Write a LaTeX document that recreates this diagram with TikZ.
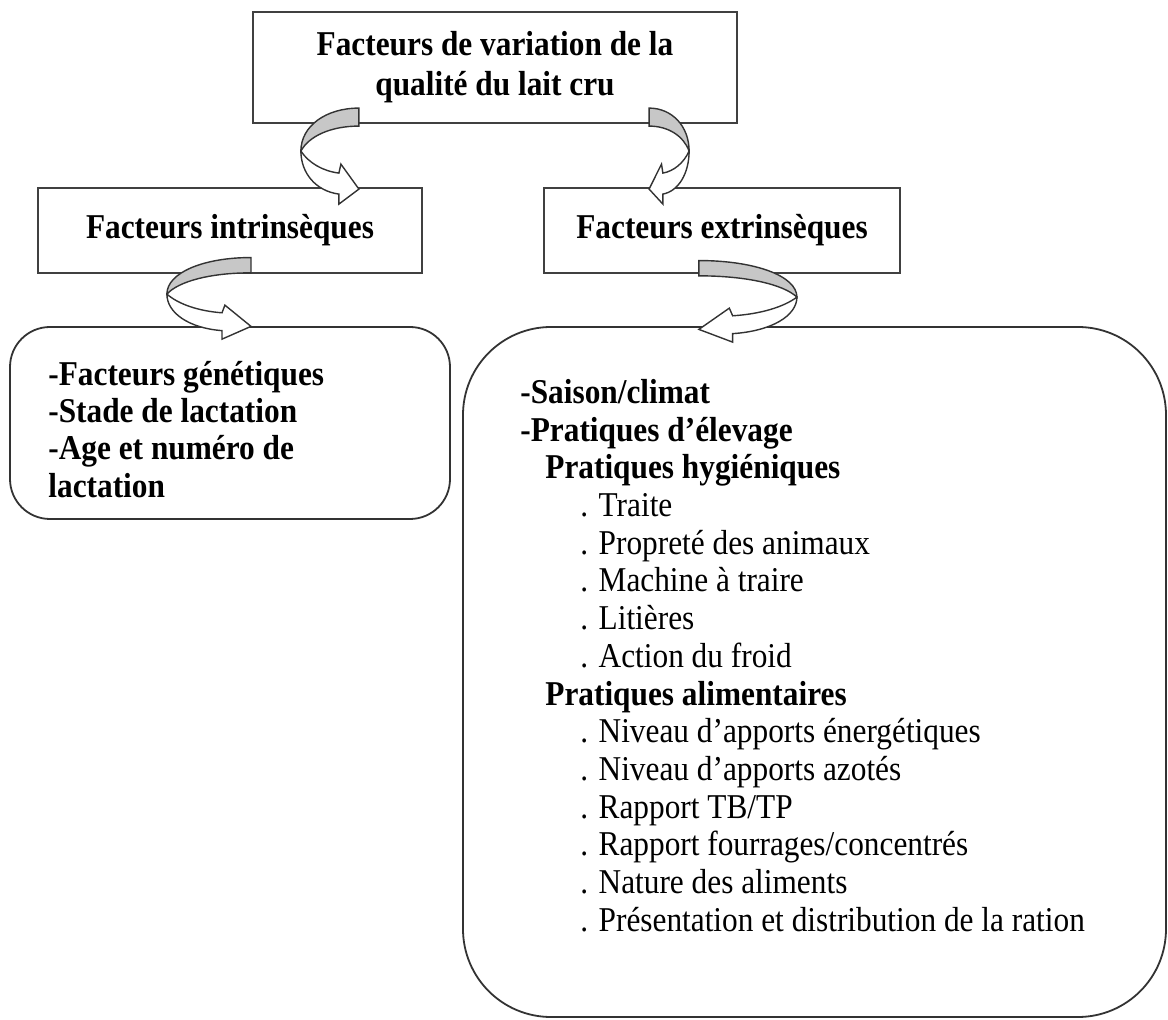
\documentclass[tikz,border=0pt]{standalone}
\usepackage{fontspec}
\setmainfont{Liberation Serif}[FakeStretch=0.9]
\usetikzlibrary{calc}

\tikzset{
  boite/.style={draw=black!75, line width=1.1pt, inner sep=0pt, align=center,
    font=\bfseries\fontsize{17.4}{20}\selectfont},
  cadre/.style={draw=black!80, line width=0.9pt, inner sep=0pt},
  titre/.style={anchor=base west, inner sep=0pt, font=\bfseries\fontsize{17.4}{20}\selectfont},
  item/.style={anchor=base west, inner sep=0pt, font=\fontsize{17.4}{20}\selectfont},
  dos/.style={draw=black!80, line width=0.7pt, fill=black!22},
  face/.style={draw=black!80, line width=0.7pt, fill=white},
}

% fleche courbe (ruban vrille), origine = point le plus a gauche
\newcommand{\vrille}[3]{%
  \begin{scope}[shift={#1}, xscale=#2, yscale=#3]
    \filldraw[dos] (58,-43) -- (58,-25) .. controls (30,-25) and (8,-15) .. (0,0)
      .. controls (0,-25) and (25,-43) .. (58,-43) -- cycle;
    \filldraw[face] (0,0) .. controls (8,12) and (22,20) .. (38,22) -- (40,13) -- (58,38)
      -- (38,53) -- (38,43) .. controls (15,40) and (0,22) .. (0,0) -- cycle;
  \end{scope}}

\begin{document}
\begin{tikzpicture}[x=0.5pt, y=-0.5pt]
\useasboundingbox (0,0) rectangle (1168,1020);

\node[boite, minimum width=242pt, minimum height=55.5pt] (top) at (495,67.5)
  {Facteurs de variation de la\\[0pt] qualité du lait cru};
\node[boite, minimum width=192pt, minimum height=42.5pt] (intr) at (230,230.5) {Facteurs intrinsèques};
\node[boite, minimum width=178pt, minimum height=42.5pt] (extr) at (722,230.5) {Facteurs extrinsèques};

\node[cadre, rounded corners=20pt, minimum width=220pt, minimum height=96pt] (intrlist) at (230,423) {};
\node[cadre, rounded corners=44pt, minimum width=351.5pt, minimum height=345pt] (extrlist) at (814.5,672) {};

% facteurs intrinseques
\node[titre] (g1) at (48,386) {-Facteurs génétiques};
\node[titre] (g2) at (48,423) {-Stade de lactation};
\node[titre] (g3) at (48,460) {-Age et numéro de};
\node[titre] (g4) at (48,498) {lactation};

% facteurs extrinseques
\node[titre] (e1) at (520,404) {-Saison/climat};
\node[titre] (e2) at (520,442) {-Pratiques d’élevage};
\node[titre] (e3) at (545,479) {Pratiques hygiéniques};
\node[item] (e4) at (580,517) {. Traite};
\node[item] (e5) at (580,555) {. Propreté des animaux};
\node[item] (e6) at (580,592) {. Machine à traire};
\node[item] (e7) at (580,630) {. Litières};
\node[item] (e8) at (580,668) {. Action du froid};
\node[titre] (e9) at (545,706) {Pratiques alimentaires};
\node[item] (e10) at (580,743) {. Niveau d’apports énergétiques};
\node[item] (e11) at (580,781) {. Niveau d’apports azotés};
\node[item] (e12) at (580,819) {. Rapport TB/TP};
\node[item] (e13) at (580,856) {. Rapport fourrages/concentrés};
\node[item] (e14) at (580,894) {. Nature des aliments};
\node[item] (e15) at (580,932) {. Présentation et distribution de la ration};

% fleches
\vrille{($(top.south west)+(49,27)$)}{1}{1}
\vrille{($(top.south east)+(-49,27)$)}{-0.69}{1}
\vrille{($(intr.south west)+(130,20)$)}{1.45}{0.85}
\vrille{($(extr.south west)+(254,23)$)}{-1.69}{0.85}
\end{tikzpicture}
\end{document}
